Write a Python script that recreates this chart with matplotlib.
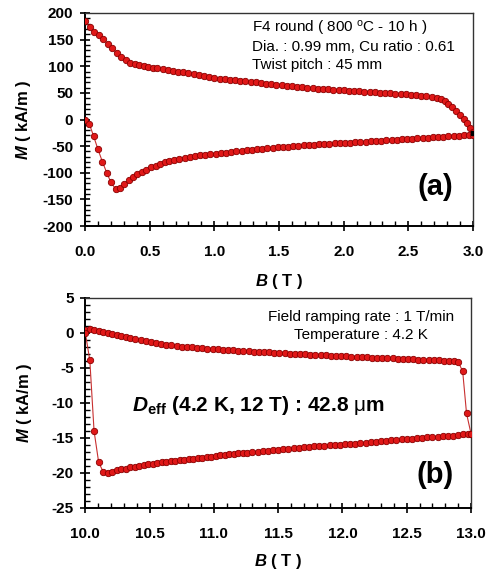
import numpy as np
import matplotlib
matplotlib.use("Agg")
import matplotlib.pyplot as plt
from matplotlib.ticker import MultipleLocator

plt.rcParams['font.family'] = ['Liberation Sans', 'DejaVu Sans']
plt.rcParams['mathtext.fontset'] = 'custom'
plt.rcParams['mathtext.rm'] = 'Liberation Sans'
plt.rcParams['mathtext.bf'] = 'Liberation Sans:bold'
plt.rcParams['mathtext.bfit'] = 'Liberation Sans:bold:italic'
plt.rcParams['mathtext.it'] = 'Liberation Sans:italic'
plt.rcParams['axes.unicode_minus'] = False

# ---- panel (a): 0 - 3 T loop ----
b_a_down = [0.00, 0.036, 0.07, 0.105, 0.14, 0.175, 0.21, 0.245, 0.28, 0.315,
            0.35, 0.385, 0.42, 0.455, 0.49, 0.525, 0.56, 0.60, 0.64, 0.68,
            0.72, 0.76, 0.80, 0.84, 0.88, 0.92, 0.96, 1.00, 1.04, 1.08,
            1.12, 1.16, 1.20, 1.24, 1.28, 1.32, 1.36, 1.40, 1.44, 1.48,
            1.52, 1.56, 1.60, 1.64, 1.68, 1.72, 1.76, 1.80, 1.84, 1.88,
            1.92, 1.96, 2.00, 2.04, 2.08, 2.12, 2.16, 2.20, 2.24, 2.28,
            2.32, 2.36, 2.40, 2.44, 2.48, 2.52, 2.56, 2.60, 2.64, 2.68,
            2.72, 2.75, 2.78, 2.81, 2.84, 2.87, 2.90, 2.93, 2.955, 2.98, 3.00]
m_a_down = [185, 174, 165, 159, 151, 142, 134, 125, 118, 111,
            107, 104.5, 102.5, 100.5, 99, 97.5, 96, 94.5, 93, 91.5,
            90, 88.5, 87, 85.5, 84, 82, 80, 78, 76.5, 75.5,
            74.5, 73.5, 72.5, 71.5, 70.5, 69.5, 68.5, 67.5, 66.5, 65.5,
            64.5, 63.5, 62.5, 61.5, 60.5, 59.5, 58.5, 58, 57.2, 56.5,
            56, 55.3, 54.7, 54, 53.5, 53, 52.3, 51.7, 51, 50.4,
            49.8, 49.1, 48.4, 47.8, 47, 46.3, 45.5, 44.6, 43.5, 42.2,
            40.5, 38, 34.5, 29.5, 23.5, 16.5, 9, 1, -7, -15.5, -24]

b_a_up = [0.00, 0.033, 0.066, 0.10, 0.134, 0.168, 0.20, 0.238, 0.27, 0.304,
          0.34, 0.37, 0.405, 0.44, 0.475, 0.51, 0.545, 0.58, 0.615, 0.65,
          0.69, 0.73, 0.77, 0.81, 0.85, 0.89, 0.93, 0.97, 1.01, 1.05,
          1.09, 1.13, 1.17, 1.21, 1.25, 1.29, 1.33, 1.37, 1.41, 1.45,
          1.49, 1.53, 1.57, 1.61, 1.65, 1.69, 1.73, 1.77, 1.81, 1.85,
          1.89, 1.93, 1.97, 2.01, 2.05, 2.09, 2.13, 2.17, 2.21, 2.25,
          2.29, 2.33, 2.37, 2.41, 2.45, 2.49, 2.53, 2.57, 2.61, 2.65,
          2.69, 2.73, 2.77, 2.81, 2.85, 2.89, 2.93, 2.97, 3.00]
m_a_up = [0, -8, -31, -56, -79, -100, -118, -131, -129, -122,
          -114, -108, -102.5, -98, -94, -90, -86.5, -83.5, -80.5, -78,
          -75.5, -73.5, -71.5, -70, -68.5, -67.2, -66, -65, -64, -63,
          -62, -61, -60, -59, -58, -57, -56, -55, -54, -53.2,
          -52.4, -51.6, -50.9, -50.2, -49.5, -48.8, -48.1, -47.4, -46.8, -46.2,
          -45.6, -45, -44.4, -43.9, -43.3, -42.8, -42.2, -41.6, -41, -40.4,
          -39.8, -39.2, -38.6, -38, -37.4, -36.8, -36.2, -35.6, -35, -34.3,
          -33.6, -33, -32.3, -31.7, -31, -30.4, -29.8, -29.2, -28.7]

# ---- panel (b): 10 - 13 T loop ----
b_b_down = [10.00, 10.035, 10.07, 10.105, 10.14, 10.175, 10.21, 10.245, 10.28, 10.315,
            10.35, 10.39, 10.43, 10.47, 10.51, 10.55, 10.59, 10.63, 10.67, 10.71,
            10.75, 10.79, 10.83, 10.87, 10.91, 10.95, 10.99, 11.03, 11.07, 11.11,
            11.15, 11.19, 11.23, 11.27, 11.31, 11.35, 11.39, 11.43, 11.47, 11.51,
            11.55, 11.59, 11.63, 11.67, 11.71, 11.75, 11.79, 11.83, 11.87, 11.91,
            11.95, 11.99, 12.03, 12.07, 12.11, 12.15, 12.19, 12.23, 12.27, 12.31,
            12.35, 12.39, 12.43, 12.47, 12.51, 12.55, 12.59, 12.63, 12.67, 12.71,
            12.75, 12.79, 12.83, 12.87, 12.90, 12.935, 12.965, 13.00]
m_b_down = [0.45, 0.5, 0.4, 0.25, 0.1, -0.05, -0.2, -0.35, -0.5, -0.62,
            -0.75, -0.9, -1.05, -1.2, -1.35, -1.45, -1.55, -1.65, -1.75, -1.85,
            -1.93, -2.0, -2.07, -2.13, -2.18, -2.22, -2.27, -2.32, -2.37, -2.42,
            -2.47, -2.52, -2.56, -2.6, -2.65, -2.7, -2.73, -2.78, -2.82, -2.86,
            -2.9, -2.95, -2.98, -3.02, -3.06, -3.1, -3.13, -3.17, -3.2, -3.24,
            -3.28, -3.31, -3.35, -3.38, -3.42, -3.45, -3.49, -3.52, -3.55, -3.58,
            -3.61, -3.64, -3.67, -3.7, -3.73, -3.76, -3.79, -3.82, -3.85, -3.88,
            -3.91, -3.94, -3.97, -4.0, -4.1, -5.5, -11.5, -14.4]

b_b_up = [10.00, 10.035, 10.068, 10.104, 10.14, 10.175, 10.21, 10.245, 10.28, 10.315,
          10.35, 10.385, 10.42, 10.455, 10.49, 10.525, 10.56, 10.595, 10.63, 10.665,
          10.70, 10.735, 10.77, 10.805, 10.84, 10.875, 10.91, 10.945, 10.98, 11.015,
          11.05, 11.085, 11.12, 11.155, 11.19, 11.225, 11.26, 11.30, 11.34, 11.38,
          11.42, 11.46, 11.50, 11.54, 11.58, 11.62, 11.66, 11.70, 11.74, 11.78,
          11.82, 11.86, 11.90, 11.94, 11.98, 12.02, 12.06, 12.10, 12.14, 12.18,
          12.22, 12.26, 12.30, 12.34, 12.38, 12.42, 12.46, 12.50, 12.54, 12.58,
          12.62, 12.66, 12.70, 12.74, 12.78, 12.82, 12.86, 12.90, 12.94, 12.98, 13.00]
m_b_up = [0.0, -3.9, -14.0, -18.5, -19.85, -20.0, -19.85, -19.55, -19.45, -19.4,
          -19.2, -19.1, -18.95, -18.85, -18.7, -18.65, -18.6, -18.5, -18.4, -18.35,
          -18.3, -18.2, -18.15, -18.05, -18.0, -17.9, -17.8, -17.75, -17.65, -17.6,
          -17.5, -17.45, -17.35, -17.3, -17.2, -17.15, -17.1, -17.0, -16.95, -16.85,
          -16.8, -16.75, -16.7, -16.6, -16.55, -16.45, -16.4, -16.35, -16.25, -16.2,
          -16.15, -16.1, -16.05, -16.0, -15.95, -15.9, -15.85, -15.8, -15.75, -15.65,
          -15.6, -15.55, -15.5, -15.4, -15.35, -15.3, -15.2, -15.15, -15.1, -15.0,
          -14.95, -14.9, -14.85, -14.8, -14.75, -14.7, -14.65, -14.6, -14.5, -14.45, -14.4]

fill_c = '#e01818'
edge_c = '#8a0000'
line_c = '#c83030'


def draw_loop(ax, xs_list, ys_list):
    for xs, ys in zip(xs_list, ys_list):
        ax.plot(xs, ys, '-', color=line_c, lw=0.8, zorder=2)
        ax.plot(xs, ys, 'o', ms=4.6, mfc=fill_c, mec=edge_c, mew=0.6, zorder=3)


def style_axes(ax):
    ax.tick_params(which='major', direction='inout', length=7, width=1.2,
                   labelsize=11, top=False, right=False)
    ax.tick_params(which='minor', direction='in', length=3.5, width=1.0,
                   top=False, right=False)
    ax.tick_params(axis='x', which='major', pad=10)
    ax.tick_params(axis='y', which='major', pad=5)
    for lab in ax.get_xticklabels() + ax.get_yticklabels():
        lab.set_fontweight('bold')
    for s in ['left', 'bottom']:
        ax.spines[s].set_linewidth(1.4)
    for s in ['top', 'right']:
        ax.spines[s].set_linewidth(1.0)
        ax.spines[s].set_color('#333333')


fig = plt.figure(figsize=(4.92, 5.70), dpi=100)

# panel (a)
ax1 = fig.add_axes([0.1728, 0.6035, 0.7886, 0.3737])
draw_loop(ax1, [b_a_down, b_a_up], [m_a_down, m_a_up])
ax1.plot([3.0], [-26], 's', ms=3.5, color='black', zorder=4)
ax1.set_xlim(0, 3.0)
ax1.set_ylim(-200, 200)
ax1.xaxis.set_major_locator(MultipleLocator(0.5))
ax1.xaxis.set_minor_locator(MultipleLocator(0.1))
ax1.yaxis.set_major_locator(MultipleLocator(50))
ax1.yaxis.set_minor_locator(MultipleLocator(10))
ax1.set_xticks(np.arange(0, 3.01, 0.5))
ax1.set_xticklabels(['0.0', '0.5', '1.0', '1.5', '2.0', '2.5', '3.0'])
style_axes(ax1)
ax1.set_xlabel(r'$\mathbfit{B}$ ( T )', fontsize=12, fontweight='bold')
ax1.set_ylabel(r'$\mathbfit{M}$ ( kA/m )', fontsize=12, fontweight='bold')
ax1.xaxis.set_label_coords(0.5, -0.215)
ax1.yaxis.set_label_coords(-0.134, 0.5)
ax1.text(0.43, 0.925, r'F4 round ( 800 $^{\mathrm{o}}$C - 10 h )', transform=ax1.transAxes,
         fontsize=11, va='center', ha='left')
ax1.text(0.43, 0.84, 'Dia. : 0.99 mm, Cu ratio : 0.61', transform=ax1.transAxes,
         fontsize=11, va='center', ha='left')
ax1.text(0.43, 0.755, 'Twist pitch : 45 mm', transform=ax1.transAxes,
         fontsize=11, va='center', ha='left')
ax1.text(0.902, 0.183, '(a)', transform=ax1.transAxes, fontsize=21,
         fontweight='bold', ha='center', va='center')

# panel (b)
ax2 = fig.add_axes([0.1734, 0.1088, 0.784, 0.3684])
draw_loop(ax2, [b_b_down, b_b_up], [m_b_down, m_b_up])
ax2.set_xlim(10.0, 13.0)
ax2.set_ylim(-25, 5)
ax2.xaxis.set_major_locator(MultipleLocator(0.5))
ax2.xaxis.set_minor_locator(MultipleLocator(0.1))
ax2.yaxis.set_major_locator(MultipleLocator(5))
ax2.yaxis.set_minor_locator(MultipleLocator(1))
ax2.set_xticks(np.arange(10.0, 13.01, 0.5))
ax2.set_xticklabels(['10.0', '10.5', '11.0', '11.5', '12.0', '12.5', '13.0'])
style_axes(ax2)
ax2.set_xlabel(r'$\mathbfit{B}$ ( T )', fontsize=12, fontweight='bold')
ax2.set_ylabel(r'$\mathbfit{M}$ ( kA/m )', fontsize=12, fontweight='bold')
ax2.xaxis.set_label_coords(0.5, -0.21)
ax2.yaxis.set_label_coords(-0.134, 0.5)
ax2.text(0.715, 0.91, 'Field ramping rate : 1 T/min', transform=ax2.transAxes,
         fontsize=11, va='center', ha='center')
ax2.text(0.715, 0.825, 'Temperature : 4.2 K', transform=ax2.transAxes,
         fontsize=11, va='center', ha='center')
ax2.text(0.12, 0.49, r'$\mathbfit{D}_{\mathbf{eff}}$ (4.2 K, 12 T) : 42.8 $\mathrm{\mu}$m',
         transform=ax2.transAxes, fontsize=15, fontweight='bold',
         va='center', ha='left')
ax2.text(0.907, 0.157, '(b)', transform=ax2.transAxes, fontsize=21,
         fontweight='bold', ha='center', va='center')

fig.savefig('out.png', dpi=100)
